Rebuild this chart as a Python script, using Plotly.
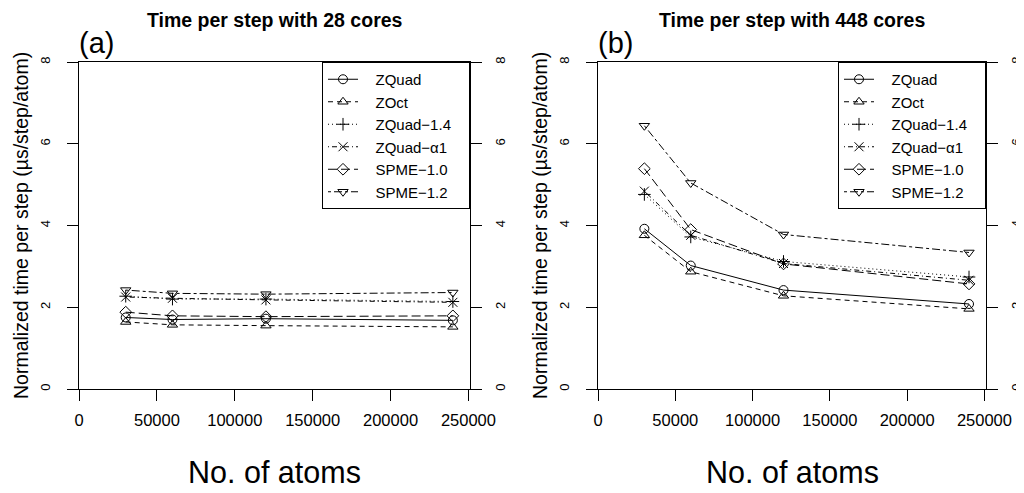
import plotly.graph_objects as go

atoms = [30000, 60000, 120000, 240000]
names = ["ZQuad", "ZOct", "ZQuad\u22121.4", "ZQuad\u2212\u03b11", "SPME\u22121.0", "SPME\u22121.2"]

c28_zquad = [1.75, 1.70, 1.72, 1.68]
c28_zoct = [1.64, 1.57, 1.55, 1.52]
c28_zquad14 = [2.27, 2.20, 2.20, 2.14]
c28_zquada1 = [2.25, 2.22, 2.18, 2.12]
c28_spme10 = [1.88, 1.79, 1.77, 1.79]
c28_spme12 = [2.42, 2.34, 2.32, 2.36]

c448_zquad = [3.92, 3.02, 2.42, 2.08]
c448_zoct = [3.76, 2.87, 2.28, 1.96]
c448_zquad14 = [4.76, 3.72, 3.12, 2.74]
c448_zquada1 = [4.84, 3.76, 3.07, 2.66]
c448_spme10 = [5.39, 3.90, 3.06, 2.57]
c448_spme12 = [6.44, 5.04, 3.78, 3.34]

x_ticks = [0, 50000, 100000, 150000, 200000, 250000]
y_ticks = [0, 2, 4, 6, 8]

panel_titles = ["Time per step with 28 cores", "Time per step with 448 cores"]
panel_tags = ["(a)", "(b)"]
x_title = "No. of atoms"
y_title = "Normalized time per step (\u00b5s/step/atom)"

dashes = ["solid", "5px,4px", "1px,3px", "1px,3px,5px,3px", "9px,4px", "3px,3px,8px,3px"]
symbols = ["circle-open", "triangle-up-open", "cross-thin-open", "x-thin-open",
           "diamond-open", "triangle-down-open"]

panels = [
    ([c28_zquad, c28_zoct, c28_zquad14, c28_zquada1, c28_spme10, c28_spme12], "x", "y", "legend"),
    ([c448_zquad, c448_zoct, c448_zquad14, c448_zquada1, c448_spme10, c448_spme12], "x2", "y2", "legend2"),
]

NB = "\u00a0"
fig = go.Figure()
for series, xa, ya, leg in panels:
    for name, vals, dash, sym in zip(names, series, dashes, symbols):
        fig.add_trace(go.Scatter(
            x=atoms, y=vals, name=NB * 3 + name + NB * 3,
            mode="lines+markers", xaxis=xa, yaxis=ya, legend=leg,
            line=dict(color="black", width=1, dash=dash),
            marker=dict(symbol=sym, size=9, color="black", line=dict(color="black", width=1)),
        ))
# empty anchors so the right-side axes are drawn
fig.add_trace(go.Scatter(x=[None], y=[None], xaxis="x", yaxis="y3", showlegend=False))
fig.add_trace(go.Scatter(x=[None], y=[None], xaxis="x2", yaxis="y4", showlegend=False))

# page has an 8px body margin: the figure starts at (8, 8) in the window
OFF = 8
W, H = 1024 - OFF, 493 - OFF


def fx(p):
    return (p - OFF) / W


def fy(p):
    return 1 - (p - OFF) / H


px = [(79, 470), (598, 986)]
xd1 = [fx(px[0][0]), fx(px[0][1])]
xd2 = [fx(px[1][0]), fx(px[1][1])]
yd = [fy(389), fy(62)]

FONT = "Liberation Sans, Arial, sans-serif"
tickfont = dict(family=FONT, size=13, color="black")
xtickfont = dict(family=FONT, size=16.5, color="black")


def xaxis(domain, anchor):
    return dict(domain=domain, anchor=anchor, range=[0, 251000], tickvals=x_ticks,
                ticktext=[str(v) for v in x_ticks], ticks="outside", ticklen=11,
                tickcolor="black", showline=True, linecolor="black", linewidth=1,
                mirror=True, showgrid=False, zeroline=False, tickfont=xtickfont,
                ticklabelstandoff=5, automargin=False)


def yaxis(anchor, side="left", overlaying=None):
    d = dict(anchor=anchor, domain=yd, range=[0, 8], tickvals=y_ticks, ticks="outside",
             ticklen=11, tickcolor="black", showline=True, linecolor="black", linewidth=1,
             mirror=True, showgrid=False, zeroline=False, tickangle=-90, tickfont=tickfont,
             side=side, ticklabelstandoff=12 if side == "left" else 7, automargin=False)
    if overlaying:
        d["overlaying"] = overlaying
    return d


def legend(xright):
    return dict(x=xright, xanchor="right", y=yd[1], yanchor="top", bgcolor="white",
                bordercolor="black", borderwidth=1, tracegroupgap=0,
                font=dict(family=FONT, size=15, color="black"), itemwidth=30)


annotations = []
for i, (l, r) in enumerate(px):
    cx = (l + r) / 2
    annotations += [
        dict(text="<b>" + panel_titles[i] + "</b>", x=fx(cx), y=fy(20), xanchor="center",
             yanchor="middle", font=dict(family=FONT, size=19.5, color="black")),
        dict(text=panel_tags[i], x=fx(l - 1), y=fy(43), xanchor="left", yanchor="middle",
             font=dict(family=FONT, size=29, color="black")),
        dict(text=x_title, x=fx(cx), y=fy(472), xanchor="center", yanchor="middle",
             font=dict(family=FONT, size=30.5, color="black")),
        dict(text=y_title, x=fx(l - 58), y=fy(226), xanchor="center", yanchor="middle",
             textangle=-90, font=dict(family=FONT, size=19.5, color="black")),
    ]
for a in annotations:
    a.update(xref="paper", yref="paper", showarrow=False, borderpad=0)

fig.update_layout(
    width=W, height=H, margin=dict(l=0, r=0, t=0, b=0, autoexpand=False),
    plot_bgcolor="white", paper_bgcolor="white",
    xaxis=xaxis(xd1, "y"), xaxis2=xaxis(xd2, "y2"),
    yaxis=yaxis("x"), yaxis2=yaxis("x2"),
    yaxis3=yaxis("x", side="right", overlaying="y"),
    yaxis4=yaxis("x2", side="right", overlaying="y2"),
    legend=legend(fx(px[0][1])), legend2=legend(fx(px[1][1])),
    annotations=annotations,
)

fig.write_html("out.html")
